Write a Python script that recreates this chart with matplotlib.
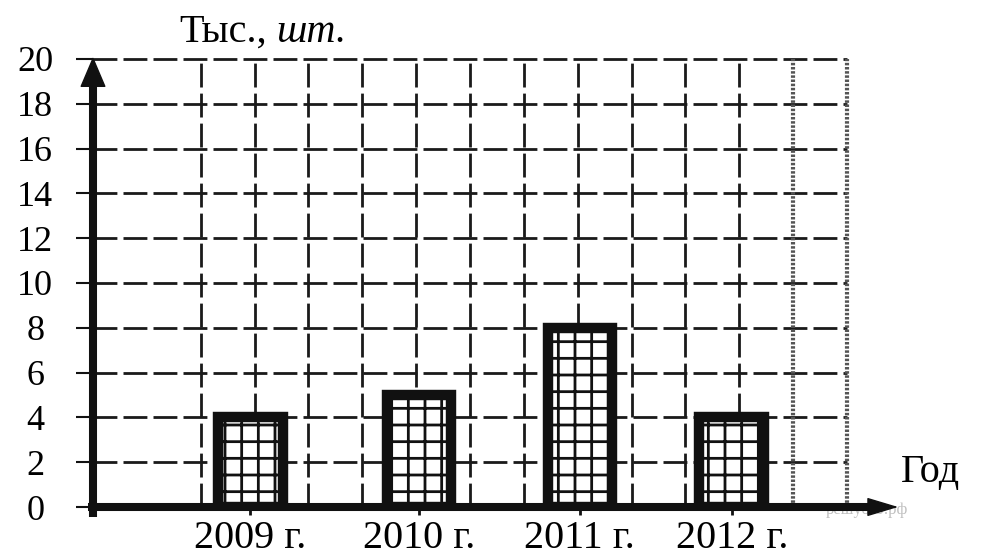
import matplotlib.pyplot as plt

plt.rcParams['font.family'] = ['Liberation Serif', 'DejaVu Serif']
plt.rcParams['hatch.linewidth'] = 2.0

# данные
years = ['2009 г.', '2010 г.', '2011 г.', '2012 г.']
values = [4, 5, 8, 4]
bar_pos = [2.92, 6.05, 9.04, 11.86]
y_ticks = [0, 2, 4, 6, 8, 10, 12, 14, 16, 18, 20]
grid_x = [2, 3, 4, 5, 6, 7, 8, 9, 10, 11, 12]
dotted_x = [13, 14]

fig = plt.figure(figsize=(10.03, 5.59), dpi=100)
ax = fig.add_axes([93 / 1003, 52 / 559, 754 / 1003, 448 / 559])
ax.set_xlim(0, 14)
ax.set_ylim(0, 20)
for s in ax.spines.values():
    s.set_visible(False)

dash = (0, (8.6, 2.2))
for y in y_ticks[1:]:
    ax.plot([0, 14], [y, y], color='#1a1a1a', lw=2, ls=dash, clip_on=False, zorder=1)
for x in grid_x:
    ax.plot([x, x], [0, 20], color='#1a1a1a', lw=2, ls=dash, clip_on=False, zorder=1)
for x in dotted_x:
    ax.plot([x, x], [0, 20], color='#555555', lw=3, ls=(0, (0.6, 0.4)), clip_on=False, zorder=1)

ax.bar(bar_pos, values, width=1.2, facecolor='white', edgecolor='#111111',
       linewidth=7.5, hatch='+', zorder=3)

# оси со стрелками
ax.plot([0, 0], [-0.45, 18.8], color='#111111', lw=5.8, clip_on=False, zorder=5,
        solid_capstyle='butt')
ax.plot([-0.1, 14.4], [0, 0], color='#111111', lw=5.8, clip_on=False, zorder=5,
        solid_capstyle='butt')
ax.annotate('', xy=(0, 20.1), xytext=(0, 18.5), annotation_clip=False,
            arrowprops=dict(arrowstyle='-|>,head_length=2.0,head_width=0.85',
                            color='#111111', lw=1, mutation_scale=10,
                            shrinkA=0, shrinkB=0), zorder=6)
ax.annotate('', xy=(14.95, 0), xytext=(14.2, 0), annotation_clip=False,
            arrowprops=dict(arrowstyle='-|>,head_length=2.0,head_width=0.6',
                            color='#111111', lw=1, mutation_scale=10,
                            shrinkA=0, shrinkB=0), zorder=6)

ax.set_yticks(y_ticks)
ax.set_yticklabels([str(v) for v in y_ticks], fontsize=26)
for lbl in ax.get_yticklabels():
    lbl.set_horizontalalignment('center')
ax.tick_params(axis='y', length=12, width=1.5, color='#111111', pad=29.5)

ax.set_xticks(bar_pos)
ax.set_xticklabels(years, fontsize=29)
ax.tick_params(axis='x', length=6, width=2, color='#111111', pad=3)

t1 = ax.text(1.6, 20.76, 'Тыс.,', fontsize=29, va='baseline', ha='left')
ax.annotate('шт.', xy=(1, 0), xycoords=t1, xytext=(7, 0),
            textcoords='offset points', fontsize=29, style='italic',
            va='bottom', ha='left')

ax.text(15.0, 1.12, 'Год', fontsize=29, va='baseline', ha='left')
ax.text(13.6, -0.13, 'решуогэ.рф', fontsize=12, color='#c0c0c0',
        va='center', ha='left', zorder=0)

fig.savefig('out.png', dpi=100)
